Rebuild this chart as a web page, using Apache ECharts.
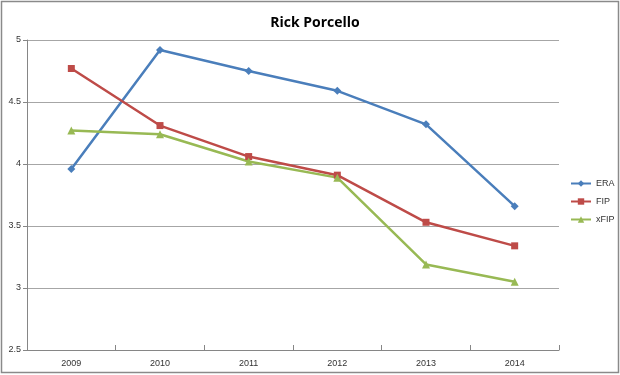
<!DOCTYPE html>
<html><head><meta charset="utf-8">
<script src="https://cdn.jsdelivr.net/npm/echarts@6/dist/echarts.min.js"></script>
<style>html,body{margin:0;padding:0;background:#fff}#c{width:620px;height:375px}</style>
</head><body><div id="c"></div>
<script>
const categories = ['2009','2010','2011','2012','2013','2014'];
const era  = [3.96, 4.92, 4.75, 4.59, 4.32, 3.66];
const fip  = [4.77, 4.31, 4.06, 3.91, 3.53, 3.34];
const xfip = [4.27, 4.24, 4.02, 3.89, 3.19, 3.05];
const yTicks = { min: 2.5, max: 5, interval: 0.5 };

const font = "'Liberation Sans', Arial, sans-serif";
const chart = echarts.init(document.getElementById('c'), null, {renderer:'canvas'});
function s(name, data, color, symbol, size){
  return {name, type:'line', data, color, symbol, symbolSize:size, showSymbol:true,
    lineStyle:{width:2.5,color}, itemStyle:{color}, emphasis:{disabled:true}, animation:false};
}
chart.setOption({
  animation:false,
  graphic:[{type:'rect', shape:{x:1.5,y:1.5,width:617,height:371}, style:{fill:'none',stroke:'#8a8a8a',lineWidth:1.5}, silent:true}],
  title:{text:'Rick Porcello', left:310, top:11, textAlign:'center',
    textStyle:{fontFamily:"'Open Sans', sans-serif", fontSize:14, fontWeight:'bold', color:'#000'}},
  legend:{orient:'vertical', left:570, top:179, padding:0, itemGap:9, itemWidth:20, itemHeight:8,
    textStyle:{fontFamily:font, fontSize:9, color:'#333'},
    data:['ERA','FIP','xFIP']},
  grid:{left:27, right:61, top:40, bottom:25, containLabel:false},
  xAxis:{type:'category', data:categories, boundaryGap:true,
    axisLine:{lineStyle:{color:'#868686',width:1}},
    axisTick:{show:true, inside:true, length:5, interval:0, lineStyle:{color:'#868686'}},
    axisLabel:{fontFamily:font, fontSize:9, color:'#333', margin:9}},
  yAxis:{type:'value', min:yTicks.min, max:yTicks.max, interval:yTicks.interval,
    axisLine:{show:true, lineStyle:{color:'#868686'}},
    axisTick:{show:true, length:4, lineStyle:{color:'#868686'}},
    splitLine:{lineStyle:{color:'#a6a6a6',width:1}},
    axisLabel:{fontFamily:font, fontSize:9, color:'#333', margin:6}},
  series:[
    s('ERA', era, '#4A7EBB', 'diamond', 8),
    s('FIP', fip, '#BE4B48', 'rect', 7),
    s('xFIP', xfip, '#98B954', 'triangle', 8)
  ]
});
</script></body></html>
